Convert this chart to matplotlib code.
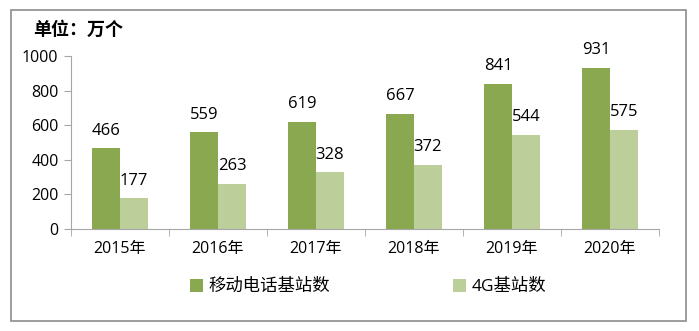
import matplotlib.pyplot as plt
import numpy as np
from matplotlib.patches import Rectangle

plt.rcParams['font.family'] = ['Open Sans', 'Noto Sans CJK SC', 'DejaVu Sans']

years = ['2015年', '2016年', '2017年', '2018年', '2019年', '2020年']
mobile = [466, 559, 619, 667, 841, 931]
lte = [177, 263, 328, 372, 544, 575]
series_names = ['移动电话基站数', '4G基站数']

dark = '#8aa84f'
light = '#bccf9b'
axis_gray = '#a6a6a6'

fig = plt.figure(figsize=(6.99, 3.31), dpi=100)
# outer frame
fig.patches.append(Rectangle((11 / 699, 1 - 321 / 331), 675 / 699, 311 / 331,
                             transform=fig.transFigure, fill=False,
                             edgecolor='#8c8c8c', linewidth=1.2))

ax = fig.add_axes([71 / 699, 1 - 229 / 331, 588 / 699, 173 / 331])
x = np.arange(len(years))
w = 0.285
b1 = ax.bar(x - w / 2, mobile, w, color=dark, label=series_names[0])
b2 = ax.bar(x + w / 2, lte, w, color=light, label=series_names[1])

for bars, vals in ((b1, mobile), (b2, lte)):
    for rect, v in zip(bars, vals):
        ax.text(rect.get_x() + rect.get_width() / 2, v + 55, str(v),
                ha='center', va='bottom', fontsize=12)

ax.set_xlim(-0.5, len(years) - 0.5)
ax.set_ylim(0, 1000)
ax.set_yticks(range(0, 1001, 200))
ax.set_xticks(x)
ax.set_xticklabels(years, fontsize=11.5)
ax.set_xticks(np.arange(-0.5, len(years)), minor=True)
ax.tick_params(axis='x', which='major', length=0, pad=9)
ax.tick_params(axis='x', which='minor', length=5, color=axis_gray)
ax.tick_params(axis='y', length=5, color=axis_gray, labelsize=11.5, pad=4)

for s in ['top', 'right']:
    ax.spines[s].set_visible(False)
for s in ['left', 'bottom']:
    ax.spines[s].set_color(axis_gray)

fig.text(33 / 699, 1 - 30 / 331, '单位：万个', fontsize=13, fontweight='bold',
         va='center', ha='left')

fig.legend(handles=[b1, b2], labels=series_names, loc='center left',
           bbox_to_anchor=(174 / 699, 1 - 287 / 331), ncol=2, frameon=False,
           fontsize=12.5, handlelength=0.75, handleheight=0.75, columnspacing=7.05,
           handletextpad=0.35)

fig.savefig('out.png', dpi=100)
